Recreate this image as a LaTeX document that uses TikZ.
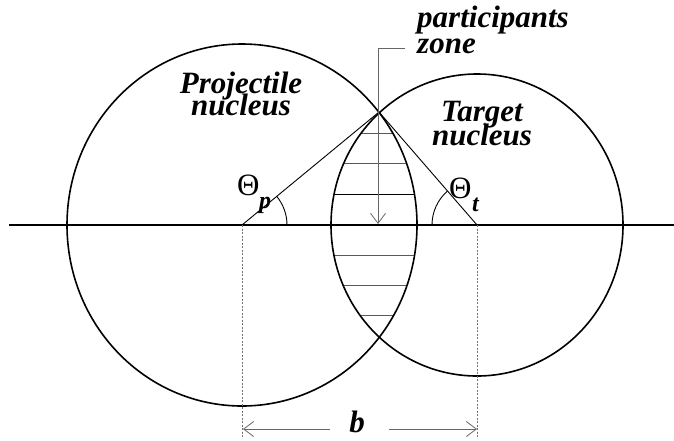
\documentclass[tikz,border=0pt]{standalone}
\usepackage{fontspec}
\setmainfont{Liberation Serif}
\usetikzlibrary{arrows.meta,calc}
\newcommand{\lblfont}{\fontsize{31}{22}\selectfont\bfseries\itshape\setlength{\lineskiplimit}{-40pt}}
\begin{document}
\begin{tikzpicture}[x=1pt,y=-1pt,
  lbl/.style={font=\lblfont, inner sep=0pt, anchor=base, align=center},
  sub/.style={font=\fontsize{24}{24}\selectfont\bfseries\itshape, inner sep=0pt, anchor=base west},
  theta/.style={font=\fontsize{31}{31}\selectfont, inner sep=0pt, anchor=base west},
  circ/.style={line width=1.6pt},
  axis/.style={line width=1.4pt},
  radline/.style={line width=0.9pt},
  hatch/.style={line width=1pt, black!65},
  guide/.style={black!60, line width=0.8pt},
  dotg/.style={black!55, line width=0.7pt, dash pattern=on 2pt off 1.5pt},
  barb/.style={-{Straight Barb[length=10pt,width=15pt,line width=0.8pt]}}
]
\useasboundingbox (0,0) rectangle (674,440);
\coordinate (pc) at (242,225);
\coordinate (tc) at (477,225);
\coordinate (top) at (379,112);
\coordinate (axl) at (9,225);
\coordinate (axr) at (674,225);

% hatching of the participant zone
\begin{scope}
  \clip (pc) ellipse [x radius=175pt, y radius=181pt];
  \clip (tc) ellipse [x radius=146pt, y radius=151pt];
  \foreach \yy in {133,163,255,285,315}
    \draw[hatch] (300,\yy) -- (460,\yy);
  \draw[line width=0.9pt] (300,194) -- (460,194);
\end{scope}

% nuclei
\draw[circ] (pc) ellipse [x radius=175pt, y radius=181pt];
\draw[circ] (tc) ellipse [x radius=146pt, y radius=151pt];

% axis
\draw[axis] (axl) -- (axr);

% radius lines
\draw[radline] (pc) -- (top) -- (tc);

% angle arcs
\draw[radline] ($(pc)+(45,0)$) arc [start angle=0, end angle=39.5, radius=45pt];
\draw[radline] ($(tc)+(-45,0)$) arc [start angle=180, end angle=131, radius=45pt];

% dotted drop lines
\coordinate (pcd) at (242,437);
\coordinate (tcd) at (477,437);
\draw[dotg] (pc) -- (pcd);
\draw[dotg] (tc) -- (tcd);

% participants zone pointer
\coordinate (pz) at (378,48);
\coordinate (pzt) at (405,48);
\coordinate (pze) at (378,224);
\draw[guide, barb] (pz) -- (pze);
\draw[guide] (pz) -- (pzt);

% b arrow
\coordinate (bl) at (243,429);
\coordinate (br) at (477,429);
\coordinate (bgl) at (330,429);
\coordinate (bgr) at (389,429);
\draw[guide, barb] (bgl) -- (bl);
\draw[guide, barb] (bgr) -- (br);
\node[lbl] (bb) at (357,432) {b};

% labels (anchor = baseline of last line)
\node[lbl] (proj) at (241,115) {Projectile\\nucleus};
\node[lbl] (targ) at (482,145) {Target\\[2pt]nucleus};
\node[lbl, anchor=base west, align=left] (part) at (417,53) {participants\\[4pt]zone};

\node[theta] (thp) at (237,195) {Θ};
\node[sub] (thps) at (259,208) {p};
\node[theta] (tht) at (449,198) {Θ};
\node[sub] (thts) at (472,211) {t};
\end{tikzpicture}
\end{document}
